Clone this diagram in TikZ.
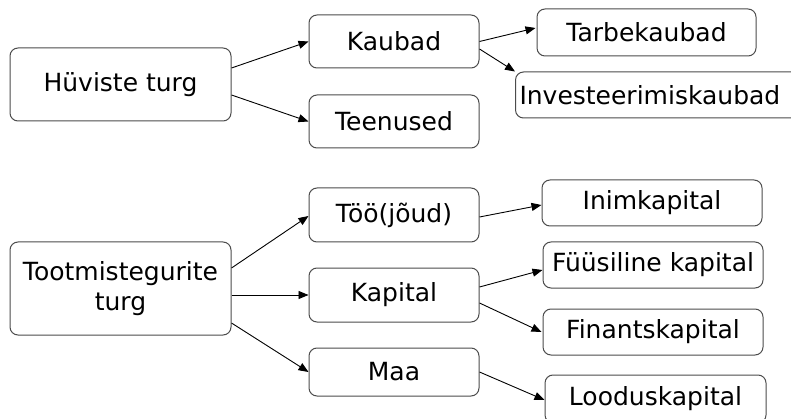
\documentclass[tikz,border=0pt]{standalone}
\usepackage{fontspec}
\setmainfont{DejaVu Sans}
\usetikzlibrary{arrows.meta}
\begin{document}
\begin{tikzpicture}[x=1pt,y=-1pt,
  box/.style={draw=black!70, line width=1pt, rounded corners=8pt,
    inner sep=0pt, align=center, font=\fontsize{25}{30}\selectfont},
  link/.style={draw=black, line width=0.9pt,
    -{Triangle[length=10pt,width=8pt]}}]
  \fill[white] (0,0) rectangle (791,419);
  \useasboundingbox (0,0) rectangle (791,419);
  \clip (0,0) rectangle (791,419);

  % goods and services market
  \node[box, minimum width=221pt, minimum height=73pt] (hu) at (120.5,84.5) {Hüviste turg};
  \node[box, minimum width=170pt, minimum height=53pt] (kau) at (394,41.5) {Kaubad};
  \node[box, minimum width=170pt, minimum height=53pt] (tee) at (394,121.5) {Teenused};
  \node[box, minimum width=219pt, minimum height=47pt] (tar) at (646.5,32.5) {Tarbekaubad};
  \node[box, anchor=west, minimum height=46pt, text width=285pt, inner xsep=4pt,
        align=left] (inv) at (515,95) {Investeerimiskaubad};

  % factor market
  \node[box, minimum width=221pt, minimum height=93pt] (too) at (120.5,288.5) {Tootmistegurite\\turg};
  \node[box, minimum width=170pt, minimum height=54pt] (toj) at (394,215) {Töö(jõud)};
  \node[box, minimum width=170pt, minimum height=54pt] (kap) at (394,295) {Kapital};
  \node[box, minimum width=170pt, minimum height=48pt] (maa) at (394,372) {Maa};
  \node[box, minimum width=220pt, minimum height=46pt] (ini) at (652,203) {Inimkapital};
  \node[box, minimum width=220pt, minimum height=46pt] (fuu) at (653,265) {Füüsiline kapital};
  \node[box, minimum width=220pt, minimum height=46pt] (fin) at (653,332) {Finantskapital};
  \node[box, minimum width=221pt, minimum height=48pt] (loo) at (655.5,399) {Looduskapital};

  % connectors
  \draw[link] ([yshift=16.5pt]hu.east) -- (kau.west);
  \draw[link] ([yshift=-10.5pt]hu.east) -- (tee.west);
  \draw[link] (kau.east) -- ([xshift=-1pt,yshift=4.5pt]tar.west);
  \draw[link] ([yshift=-7.5pt]kau.east) -- (inv.north west);

  \draw[link] ([yshift=20.5pt]too.east) -- ([yshift=-1pt]toj.west);
  \draw[link] ([yshift=-6.5pt]too.east) -- (kap.west);
  \draw[link] ([yshift=-34.5pt]too.east) -- (maa.west);
  \draw[link] ([yshift=-2pt]toj.east) -- ([yshift=-2pt]ini.west);
  \draw[link] ([yshift=8pt]kap.east) -- ([yshift=-5pt]fuu.west);
  \draw[link] ([yshift=-8pt]kap.east) -- ([xshift=-1pt]fin.west);
  \draw[link] (maa.east) -- ([yshift=-1pt]loo.west);
\end{tikzpicture}
\end{document}
